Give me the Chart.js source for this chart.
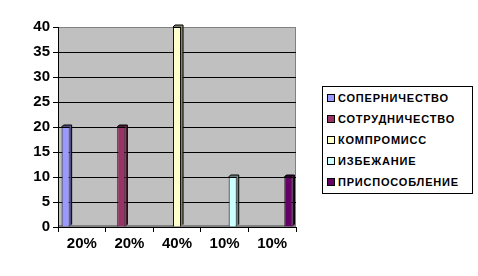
<!DOCTYPE html>
<html><head><meta charset="utf-8">
<script src="https://cdn.jsdelivr.net/npm/chart.js@4/dist/chart.umd.min.js"></script>
<style>
html,body{margin:0;padding:0;background:#fff;}
#wrap{position:relative;width:478px;height:276px;}
#legend{position:absolute;left:322px;top:86px;width:151px;height:108px;border:1px solid #000;background:#fff;box-sizing:border-box;font-family:"Liberation Sans",Arial,sans-serif;font-weight:bold;font-size:11px;letter-spacing:0.8px;color:#000;}
.item{position:absolute;left:4px;height:14px;line-height:14px;white-space:nowrap;}
.sw{display:inline-block;width:6px;height:6px;border:1px solid #000;margin-right:3px;vertical-align:0px;}
</style></head>
<body><div id="wrap"><canvas id="c" width="478" height="276"></canvas><div id="legend"></div></div>
<script>
const categories = ["20%","20%","40%","10%","10%"];
const seriesNames = ["СОПЕРНИЧЕСТВО","СОТРУДНИЧЕСТВО","КОМПРОМИСС","ИЗБЕЖАНИЕ","ПРИСПОСОБЛЕНИЕ"];
const sopernichestvo = [20,null,null,null,null];
const sotrudnichestvo = [null,20,null,null,null];
const kompromiss = [null,null,40,null,null];
const izbezhanie = [null,null,null,10,null];
const prisposoblenie = [null,null,null,null,10];
const yTicks = [0,5,10,15,20,25,30,35,40];
const fills = ["#9999FF","#993366","#FFFFCC","#CCFFFF","#660066"];
const sides = ["#4D4D80","#4D1A33","#808066","#668080","#330033"];
const allValues = [sopernichestvo,sotrudnichestvo,kompromiss,izbezhanie,prisposoblenie];

const leg = document.getElementById('legend');
seriesNames.forEach((n,i)=>{
  const d=document.createElement('div');d.className='item';d.style.top=(4+i*21)+'px';
  d.innerHTML='<span class="sw" style="background:'+fills[i]+'"></span>'+n;
  leg.appendChild(d);
});

const bgPlugin = {
  id:'bg',
  beforeDraw(chart){
    const {ctx,chartArea:a}=chart;
    ctx.save();ctx.fillStyle='#C0C0C0';ctx.fillRect(a.left,a.top,a.right-a.left,a.bottom-a.top);
    ctx.strokeStyle='#808080';ctx.lineWidth=1;
    ctx.strokeRect(a.left+0.5,a.top+0.5,a.right-a.left-1,a.bottom-a.top);
    ctx.fillStyle='#808080';ctx.fillRect(a.left,a.bottom-2,a.right-a.left,2);
    ctx.restore();
  },
  afterDatasetsDraw(chart){
    const ctx=chart.ctx;ctx.save();
    chart.data.datasets.forEach((ds,i)=>{
      chart.getDatasetMeta(i).data.forEach((bar,j)=>{
        if(ds.data[j]==null)return;
        const p=bar.getProps(['x','y','base','width'],true);
        const r=p.x+p.width/2,l=p.x-p.width/2,d=2;
        ctx.fillStyle=sides[i];
        ctx.beginPath();ctx.moveTo(r,p.y);ctx.lineTo(r+d,p.y-d);ctx.lineTo(r+d,p.base-d);ctx.lineTo(r,p.base);ctx.closePath();ctx.fill();
        ctx.beginPath();ctx.moveTo(l,p.y);ctx.lineTo(l+d,p.y-d);ctx.lineTo(r+d,p.y-d);ctx.lineTo(r,p.y);ctx.closePath();ctx.fill();
        ctx.strokeStyle='#000';ctx.lineWidth=1;
        ctx.beginPath();ctx.moveTo(l,p.y);ctx.lineTo(l+d,p.y-d);ctx.lineTo(r+d,p.y-d);ctx.lineTo(r+d,p.base-d);ctx.stroke();
      });
    });
    ctx.restore();
  }
};

new Chart(document.getElementById('c'),{
  type:'bar',
  data:{labels:categories,datasets:allValues.map((v,i)=>({label:seriesNames[i],data:v,backgroundColor:fills[i],borderColor:'#000',borderWidth:1,categoryPercentage:0.85,barPercentage:1.0,skipNull:false}))},
  options:{
    responsive:false,animation:false,devicePixelRatio:1,
    layout:{padding:{left:0,right:182,top:27,bottom:0}},
    plugins:{legend:{display:false},tooltip:{enabled:false}},
    scales:{
      x:{
        grid:{display:true,drawOnChartArea:false,drawTicks:true,tickLength:5,color:'#000',offset:true},
        border:{display:true,color:'#000'},
        ticks:{color:'#000',font:{family:'"Liberation Sans", Arial',size:15,weight:'bold'},padding:3,maxRotation:0},
        afterFit(s){s.height=49;}
      },
      y:{
        min:0,max:40,
        afterBuildTicks(s){s.ticks=yTicks.map(v=>({value:v}));},
        grid:{color:(c)=>(c.tick&&(c.tick.value===40||c.tick.value===0))?'rgba(0,0,0,0)':'#000',drawTicks:true,tickLength:5,tickColor:'#000',lineWidth:1},
        border:{display:true,color:'#000'},
        ticks:{color:'#000',font:{family:'"Liberation Sans", Arial',size:15,weight:'bold'},padding:3},
        afterFit(s){s.width=58;}
      }
    }
  },
  plugins:[bgPlugin]
});
</script></body></html>
